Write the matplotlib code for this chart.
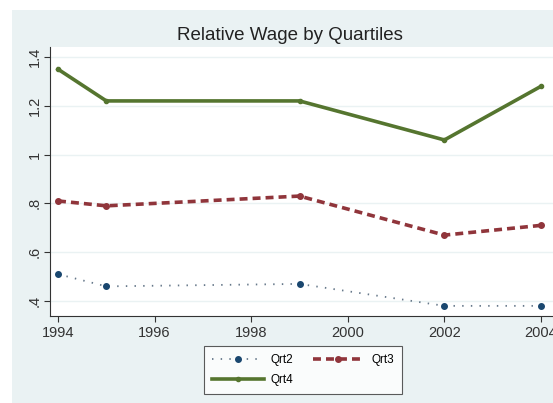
import matplotlib.pyplot as plt
from matplotlib.patches import Rectangle

plt.rcParams["font.family"] = ["Liberation Sans", "DejaVu Sans"]

# values
years = [1994, 1995, 1999, 2002, 2004]
qrt2 = [0.51, 0.46, 0.47, 0.38, 0.38]
qrt3 = [0.81, 0.79, 0.83, 0.67, 0.71]
qrt4 = [1.35, 1.22, 1.22, 1.06, 1.28]

y_ticks = [0.4, 0.6, 0.8, 1.0, 1.2, 1.4]
y_labels = [".4", ".6", ".8", "1", "1.2", "1.4"]
x_ticks = [1994, 1996, 1998, 2000, 2002, 2004]

BG = "#eaf2f3"
NAVY = "#1a476f"
MAROON = "#90353b"
GREEN = "#55752f"

W, H = 553, 403
fig = plt.figure(figsize=(W / 100, H / 100), dpi=100)
fig.patch.set_facecolor("white")

# outer graph region (Stata-like light bluish gray)
fig.patches.append(Rectangle((12 / W, 0), 1 - 12 / W, (H - 10) / H,
                             transform=fig.transFigure, facecolor=BG,
                             edgecolor="none", zorder=-10))

ax = fig.add_axes([50 / W, (H - 316) / H, (W - 50) / W, (316 - 47) / H])
ax.set_zorder(5)
ax.set_facecolor("white")

l2, = ax.plot(years, qrt2, color="#66788a", lw=1.3, dashes=(0.8, 4),
              marker="o", markersize=4, markerfacecolor=NAVY,
              markeredgecolor=NAVY, label="Qrt2")
l3, = ax.plot(years, qrt3, color=MAROON, lw=2.6, dashes=(2.2, 1.4),
              marker="o", markersize=4, label="Qrt3")
l4, = ax.plot(years, qrt4, color=GREEN, lw=2.6,
              marker="o", markersize=3, label="Qrt4")

ax.set_xlim(1993.834, 2004.248)
ax.set_ylim(0.3385, 1.441)
ax.set_xticks(x_ticks)
ax.set_yticks(y_ticks)
ax.set_yticklabels(y_labels, rotation=90, va="center")
ax.tick_params(labelsize=10.5, colors="#333333", length=4, width=0.8)
ax.tick_params(axis="y", pad=2)
ax.grid(axis="y", color=BG, lw=1)
ax.set_axisbelow(True)

for side in ["top", "right"]:
    ax.spines[side].set_visible(False)
for side in ["left", "bottom"]:
    ax.spines[side].set_color("#333333")
    ax.spines[side].set_linewidth(0.8)

fig.text(290 / W, (H - 35) / H, "Relative Wage by Quartiles",
         ha="center", va="center", fontsize=13.5, color="#222222")

# order so that rows read Qrt2, Qrt3 / Qrt4
leg = fig.legend([l2, l4, l3], ["Qrt2", "Qrt4", "Qrt3"],
                 loc="center", bbox_to_anchor=(303 / W, (H - 370) / H),
                 ncol=2, fontsize=8.5, frameon=True, fancybox=False,
                 handlelength=4.4, columnspacing=1.6, borderpad=0.7,
                 labelspacing=0.7, handletextpad=0.6)
leg.get_frame().set_edgecolor("#333333")
leg.get_frame().set_linewidth(0.8)
leg.set_zorder(6)

fig.savefig("out.png", dpi=100, facecolor=fig.get_facecolor())
